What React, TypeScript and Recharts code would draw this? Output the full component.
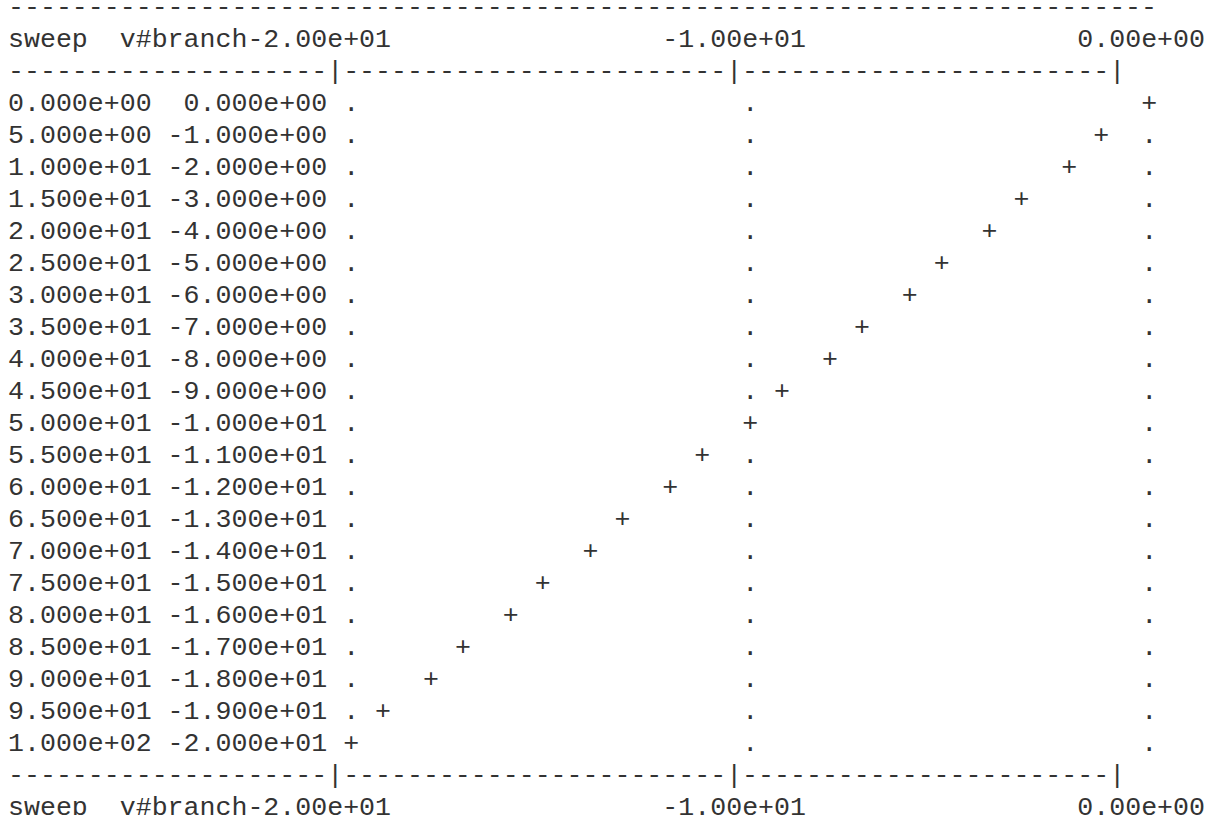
import { ScatterChart, Scatter, XAxis, YAxis } from 'recharts'

// sweep points and the branch current read at each one
const sweep = [0, 5, 10, 15, 20, 25, 30, 35, 40, 45, 50, 55, 60, 65, 70, 75, 80, 85, 90, 95, 100]
const branch = [0, -1, -2, -3, -4, -5, -6, -7, -8, -9, -10, -11, -12, -13, -14, -15, -16, -17, -18, -19, -20]
const xTicks = [-20, -10, 0]
const sweepName = 'sweep'
const vecName = 'v#branch'

// character grid of the ascii plot
const FONT = '"Liberation Mono", "DejaVu Sans Mono", monospace'
const FONT_SIZE = 26.6
const CW = 15.96
const LH = 32
const INK = '#333'
const WIDTH = 1215
const HEIGHT = 815

const colX = (c: number) => 8 + c * CW
const lineY = (l: number) => 15 + LH * l

const PLOT_L = colX(21) + CW / 2
const PLOT_R = colX(71) + CW / 2
const PLOT_T = lineY(3)
const PLOT_B = lineY(23)

// ngspice style numbers, two digit exponent
const sci = (v: number, d: number) => v.toExponential(d).replace(/e([+-])(\d)$/, 'e$10$2')

// one column per 0.4 units, truncated like the ascii plot does
const slot = (v: number) => Math.floor((v - xTicks[0]) * 2.5 + 1e-9)

const trace = sweep.map((s, i) => ({ x: branch[i], sweep: s }))
const grid = sweep.flatMap((s, i) =>
  xTicks.filter((t) => slot(t) !== slot(branch[i])).map((t) => ({ x: t, sweep: s }))
)

const snap = (cx: number) => PLOT_L + Math.floor((cx - PLOT_L) / CW + 1e-6) * CW

function Mono({ col, line, children }: { col: number; line: number; children: string }) {
  return (
    <text x={colX(col)} y={lineY(line)} fontFamily={FONT} fontSize={FONT_SIZE} fill={INK}>
      {children}
    </text>
  )
}

const rule = '-'.repeat(20) + '|' + '-'.repeat(24) + '|' + '-'.repeat(23) + '|'

function Header({ line }: { line: number }) {
  return (
    <g>
      <Mono col={0} line={line}>{sweepName}</Mono>
      <Mono col={7} line={line}>{vecName}</Mono>
      {xTicks.map((t, i) => (
        <Mono key={t} col={15 + 26 * i} line={line}>{sci(t, 2)}</Mono>
      ))}
    </g>
  )
}

function RowLabel(props: any) {
  const i = props.index
  const v = branch[i]
  return (
    <g>
      <text x={colX(0)} y={props.y} fontFamily={FONT} fontSize={FONT_SIZE} fill={INK}>
        {sci(props.payload.value, 3)}
      </text>
      <text x={colX(v < 0 ? 10 : 11)} y={props.y} fontFamily={FONT} fontSize={FONT_SIZE} fill={INK}>
        {sci(v, 3)}
      </text>
    </g>
  )
}

const glyph = (ch: string) => (p: any) => (
  <text x={snap(p.cx)} y={p.cy} textAnchor="middle" fontFamily={FONT} fontSize={FONT_SIZE} fill={INK}>
    {ch}
  </text>
)

export default function App() {
  return (
    <div style={{ position: 'fixed', top: 0, left: 0, width: WIDTH, height: HEIGHT, overflow: 'hidden', background: '#fff' }}>
      <ScatterChart
        width={WIDTH}
        height={HEIGHT}
        margin={{ top: PLOT_T, right: WIDTH - PLOT_R, bottom: HEIGHT - PLOT_B, left: 0 }}
      >
        <XAxis dataKey="x" type="number" domain={[-20, 0]} ticks={xTicks} hide />
        <YAxis
          dataKey="sweep"
          type="number"
          domain={[0, 100]}
          reversed
          ticks={sweep}
          interval={0}
          width={PLOT_L}
          axisLine={false}
          tickLine={false}
          tick={RowLabel}
        />
        <Scatter data={grid} shape={glyph('.')} isAnimationActive={false} />
        <Scatter data={trace} shape={glyph('+')} isAnimationActive={false} />
      </ScatterChart>
      <svg width={WIDTH} height={HEIGHT} style={{ position: 'absolute', top: 0, left: 0, pointerEvents: 'none' }}>
        <Mono col={0} line={0}>{'-'.repeat(72)}</Mono>
        <Header line={1} />
        <Mono col={0} line={2}>{rule}</Mono>
        <Mono col={0} line={24}>{rule}</Mono>
        <Header line={25} />
      </svg>
    </div>
  )
}
